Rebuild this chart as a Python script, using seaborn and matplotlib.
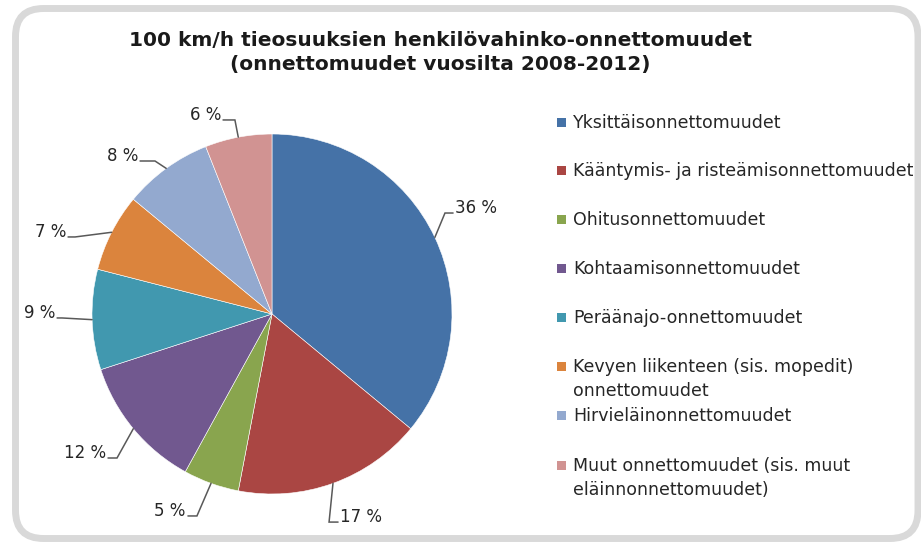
import matplotlib
matplotlib.use("Agg")
import matplotlib.pyplot as plt
import seaborn as sns
import numpy as np
from matplotlib.patches import FancyBboxPatch, Rectangle
from matplotlib.transforms import IdentityTransform

# ---------------- data ----------------
title_text = "100 km/h tieosuuksien henkilövahinko-onnettomuudet\n(onnettomuudet vuosilta 2008-2012)"
categories = [
    "Yksittäisonnettomuudet",
    "Kääntymis- ja risteämisonnettomuudet",
    "Ohitusonnettomuudet",
    "Kohtaamisonnettomuudet",
    "Peräänajo-onnettomuudet",
    "Kevyen liikenteen (sis. mopedit)\nonnettomuudet",
    "Hirvieläinonnettomuudet",
    "Muut onnettomuudet (sis. muut\neläinnonnettomuudet)",
]
values = [36, 17, 5, 12, 9, 7, 8, 6]
value_labels = ["36 %", "17 %", "5 %", "12 %", "9 %", "7 %", "8 %", "6 %"]
colors = ["#4572A7", "#AA4643", "#89A54E", "#71588F",
          "#4198AF", "#DB843D", "#93A9CF", "#D19392"]

# ---------------- style / layout ----------------
sns.set_theme(style="white")
plt.rcParams['font.family'] = ['DejaVu Sans']

W, H = 921, 542
fig = plt.figure(figsize=(W / 100, H / 100), dpi=100)
fig.patch.set_facecolor("white")

# rounded frame
frame = FancyBboxPatch((15.5, H - 538.5), 918 - 15.5, 538.5 - 8.5,
                       boxstyle="round,pad=0,rounding_size=28",
                       transform=IdentityTransform(), facecolor="none",
                       edgecolor="#d9d9d9", linewidth=5)
fig.patches.append(frame)

fig.text(440 / W, 1 - 52.5 / H, title_text, ha="center", va="center",
         fontsize=14.5, fontweight="bold", color="#1a1a1a", linespacing=1.3)

# pie axes: centre at px (272,314), radius 180 px
R = 180
cx, cy = 272, 314
xl, yl = 1.5, 1.2
ax = fig.add_axes([(cx - xl * R) / W, (H - cy - yl * R) / H,
                   2 * xl * R / W, 2 * yl * R / H])
wedges, _ = ax.pie(values, colors=colors, startangle=90, counterclock=False,
                   radius=1, wedgeprops=dict(edgecolor="white", linewidth=0.4))
ax.set_xlim(-xl, xl)
ax.set_ylim(-yl, yl)
ax.set_aspect("auto")
ax.axis("off")

# label leader geometry (elbow point, line end, text alignment) in pie units
label_layout = [
    (0.961, 0.561, 1.006, 0.561, "left"),
    (0.317, -1.156, 0.367, -1.156, "left"),
    (-0.417, -1.122, -0.467, -1.122, "right"),
    (-0.861, -0.800, -0.911, -0.800, "right"),
    (-1.167, -0.022, -1.194, -0.022, "right"),
    (-1.094, 0.428, -1.133, 0.428, "right"),
    (-0.650, 0.850, -0.733, 0.850, "right"),
    (-0.206, 1.078, -0.272, 1.078, "right"),
]
for w, lab, (bx, by, tx, ty, ha) in zip(wedges, value_labels, label_layout):
    ang = np.deg2rad((w.theta1 + w.theta2) / 2)
    ex, ey = np.cos(ang), np.sin(ang)
    ax.plot([ex, bx, tx], [ey, by, ty], color="#595959", lw=1.1,
            solid_joinstyle="miter", clip_on=False)
    dx = 0.012 if ha == "left" else -0.012
    ax.text(tx + dx, ty, lab, ha=ha, va="baseline", fontsize=12,
            color="#262626", clip_on=False)

# legend (Excel-style, marker aligned with first line)
leg_y = [122, 170, 219, 268, 317, 366, 415, 465]
ms = 9
for cat, col, y in zip(categories, colors, leg_y):
    fig.patches.append(Rectangle((557, H - y - ms / 2), ms, ms,
                                 transform=IdentityTransform(),
                                 facecolor=col, edgecolor="none"))
    for i, line in enumerate(cat.split("\n")):
        fig.text(573 / W, 1 - (y + 6 + 24 * i) / H, line, ha="left",
                 va="baseline", fontsize=12.5, color="#262626")

fig.savefig("out.png", dpi=100)
